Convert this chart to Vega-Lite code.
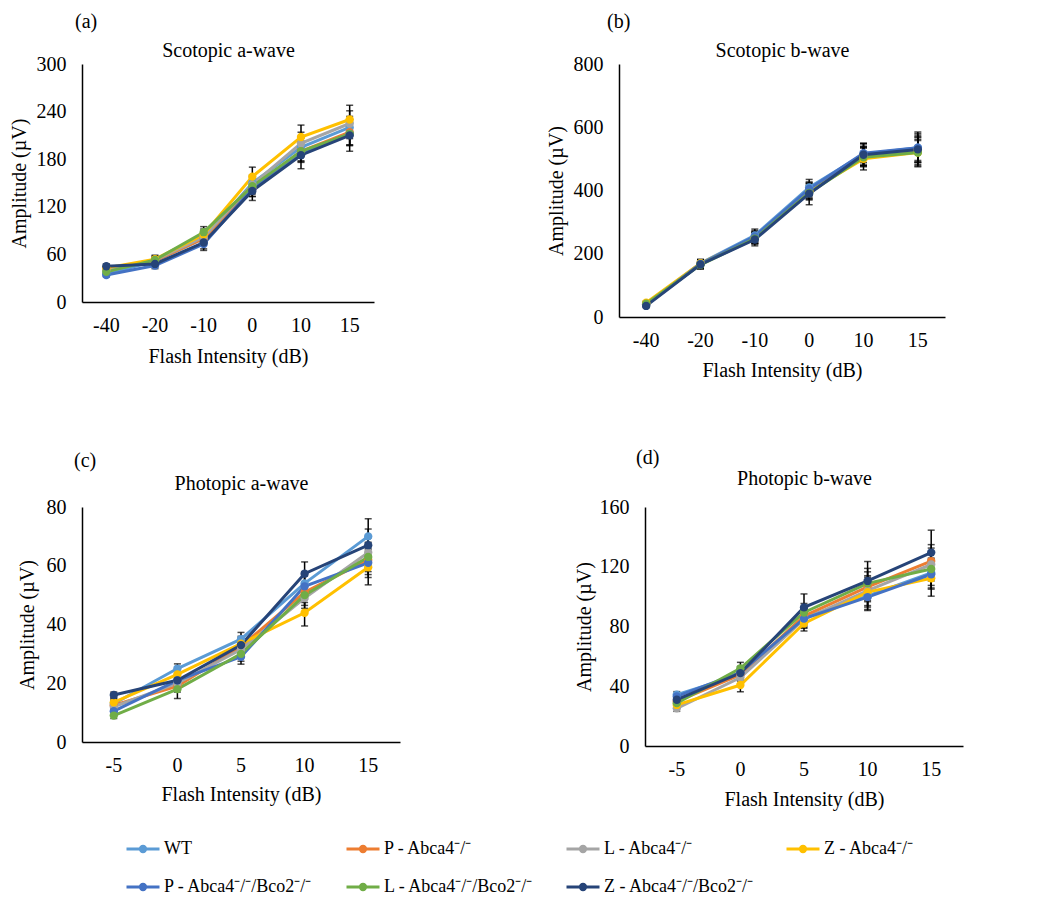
{
  "$schema": "https://vega.github.io/schema/vega-lite/v6.json",
  "padding": {"left": 9, "top": 12, "right": 5, "bottom": 5},
  "background": "white",
  "config": {
    "font": "Liberation Serif",
    "view": {"stroke": null},
    "axis": {"domainColor": "black", "domainWidth": 1.5, "ticks": false, "grid": false, "labelFont": "Liberation Serif", "labelFontSize": 20, "labelColor": "black", "titleFont": "Liberation Serif", "titleFontSize": 20, "titleFontWeight": "normal", "titleColor": "black"},
    "title": {"font": "Liberation Serif", "fontSize": 20, "fontWeight": "normal", "color": "black"},
    "legend": {"columns": 4, "direction": "horizontal", "gridAlign": "all", "columnPadding": 26, "rowPadding": 11, "symbolType": "M-1,0L1,0M0.16,0A0.16,0.16,0,1,1,-0.16,0A0.16,0.16,0,1,1,0.16,0", "symbolSize": 1089, "symbolStrokeWidth": 3, "labelFontSize": 18, "labelOffset": 3, "labelFont": "Liberation Serif", "labelColor": "black", "labelLimit": 0}
  },
  "data": {"values": [
    {"panel":"a","group":"WT","dB":"-40","amp":35,"err":3},{"panel":"a","group":"WT","dB":"-20","amp":52,"err":4},{"panel":"a","group":"WT","dB":"-10","amp":80,"err":6},{"panel":"a","group":"WT","dB":"0","amp":150,"err":10},{"panel":"a","group":"WT","dB":"10","amp":195,"err":12},{"panel":"a","group":"WT","dB":"15","amp":220,"err":14},
    {"panel":"a","group":"P - Abca4⁻/⁻","dB":"-40","amp":42,"err":3},{"panel":"a","group":"P - Abca4⁻/⁻","dB":"-20","amp":52,"err":4},{"panel":"a","group":"P - Abca4⁻/⁻","dB":"-10","amp":80,"err":6},{"panel":"a","group":"P - Abca4⁻/⁻","dB":"0","amp":143,"err":10},{"panel":"a","group":"P - Abca4⁻/⁻","dB":"10","amp":190,"err":13},{"panel":"a","group":"P - Abca4⁻/⁻","dB":"15","amp":214,"err":16},
    {"panel":"a","group":"L - Abca4⁻/⁻","dB":"-40","amp":40,"err":3},{"panel":"a","group":"L - Abca4⁻/⁻","dB":"-20","amp":53,"err":5},{"panel":"a","group":"L - Abca4⁻/⁻","dB":"-10","amp":82,"err":6},{"panel":"a","group":"L - Abca4⁻/⁻","dB":"0","amp":148,"err":10},{"panel":"a","group":"L - Abca4⁻/⁻","dB":"10","amp":200,"err":14},{"panel":"a","group":"L - Abca4⁻/⁻","dB":"15","amp":225,"err":16},
    {"panel":"a","group":"Z - Abca4⁻/⁻","dB":"-40","amp":43,"err":3},{"panel":"a","group":"Z - Abca4⁻/⁻","dB":"-20","amp":54,"err":5},{"panel":"a","group":"Z - Abca4⁻/⁻","dB":"-10","amp":85,"err":7},{"panel":"a","group":"Z - Abca4⁻/⁻","dB":"0","amp":158,"err":12},{"panel":"a","group":"Z - Abca4⁻/⁻","dB":"10","amp":208,"err":15},{"panel":"a","group":"Z - Abca4⁻/⁻","dB":"15","amp":230,"err":18},
    {"panel":"a","group":"P - Abca4⁻/⁻/Bco2⁻/⁻","dB":"-40","amp":34,"err":2},{"panel":"a","group":"P - Abca4⁻/⁻/Bco2⁻/⁻","dB":"-20","amp":46,"err":4},{"panel":"a","group":"P - Abca4⁻/⁻/Bco2⁻/⁻","dB":"-10","amp":73,"err":6},{"panel":"a","group":"P - Abca4⁻/⁻/Bco2⁻/⁻","dB":"0","amp":143,"err":10},{"panel":"a","group":"P - Abca4⁻/⁻/Bco2⁻/⁻","dB":"10","amp":188,"err":12},{"panel":"a","group":"P - Abca4⁻/⁻/Bco2⁻/⁻","dB":"15","amp":212,"err":14},
    {"panel":"a","group":"L - Abca4⁻/⁻/Bco2⁻/⁻","dB":"-40","amp":38,"err":3},{"panel":"a","group":"L - Abca4⁻/⁻/Bco2⁻/⁻","dB":"-20","amp":53,"err":4},{"panel":"a","group":"L - Abca4⁻/⁻/Bco2⁻/⁻","dB":"-10","amp":88,"err":7},{"panel":"a","group":"L - Abca4⁻/⁻/Bco2⁻/⁻","dB":"0","amp":146,"err":10},{"panel":"a","group":"L - Abca4⁻/⁻/Bco2⁻/⁻","dB":"10","amp":190,"err":12},{"panel":"a","group":"L - Abca4⁻/⁻/Bco2⁻/⁻","dB":"15","amp":212,"err":15},
    {"panel":"a","group":"Z - Abca4⁻/⁻/Bco2⁻/⁻","dB":"-40","amp":45,"err":3},{"panel":"a","group":"Z - Abca4⁻/⁻/Bco2⁻/⁻","dB":"-20","amp":48,"err":4},{"panel":"a","group":"Z - Abca4⁻/⁻/Bco2⁻/⁻","dB":"-10","amp":75,"err":10},{"panel":"a","group":"Z - Abca4⁻/⁻/Bco2⁻/⁻","dB":"0","amp":140,"err":12},{"panel":"a","group":"Z - Abca4⁻/⁻/Bco2⁻/⁻","dB":"10","amp":185,"err":17},{"panel":"a","group":"Z - Abca4⁻/⁻/Bco2⁻/⁻","dB":"15","amp":210,"err":20},

    {"panel":"b","group":"WT","dB":"-40","amp":40,"err":5},{"panel":"b","group":"WT","dB":"-20","amp":170,"err":12},{"panel":"b","group":"WT","dB":"-10","amp":258,"err":20},{"panel":"b","group":"WT","dB":"0","amp":410,"err":25},{"panel":"b","group":"WT","dB":"10","amp":515,"err":35},{"panel":"b","group":"WT","dB":"15","amp":535,"err":45},
    {"panel":"b","group":"P - Abca4⁻/⁻","dB":"-40","amp":40,"err":5},{"panel":"b","group":"P - Abca4⁻/⁻","dB":"-20","amp":168,"err":12},{"panel":"b","group":"P - Abca4⁻/⁻","dB":"-10","amp":250,"err":18},{"panel":"b","group":"P - Abca4⁻/⁻","dB":"0","amp":400,"err":22},{"panel":"b","group":"P - Abca4⁻/⁻","dB":"10","amp":510,"err":30},{"panel":"b","group":"P - Abca4⁻/⁻","dB":"15","amp":530,"err":40},
    {"panel":"b","group":"L - Abca4⁻/⁻","dB":"-40","amp":42,"err":5},{"panel":"b","group":"L - Abca4⁻/⁻","dB":"-20","amp":167,"err":11},{"panel":"b","group":"L - Abca4⁻/⁻","dB":"-10","amp":252,"err":18},{"panel":"b","group":"L - Abca4⁻/⁻","dB":"0","amp":395,"err":22},{"panel":"b","group":"L - Abca4⁻/⁻","dB":"10","amp":508,"err":30},{"panel":"b","group":"L - Abca4⁻/⁻","dB":"15","amp":528,"err":40},
    {"panel":"b","group":"Z - Abca4⁻/⁻","dB":"-40","amp":45,"err":5},{"panel":"b","group":"Z - Abca4⁻/⁻","dB":"-20","amp":170,"err":12},{"panel":"b","group":"Z - Abca4⁻/⁻","dB":"-10","amp":250,"err":18},{"panel":"b","group":"Z - Abca4⁻/⁻","dB":"0","amp":398,"err":24},{"panel":"b","group":"Z - Abca4⁻/⁻","dB":"10","amp":500,"err":35},{"panel":"b","group":"Z - Abca4⁻/⁻","dB":"15","amp":520,"err":42},
    {"panel":"b","group":"P - Abca4⁻/⁻/Bco2⁻/⁻","dB":"-40","amp":38,"err":5},{"panel":"b","group":"P - Abca4⁻/⁻/Bco2⁻/⁻","dB":"-20","amp":168,"err":12},{"panel":"b","group":"P - Abca4⁻/⁻/Bco2⁻/⁻","dB":"-10","amp":255,"err":18},{"panel":"b","group":"P - Abca4⁻/⁻/Bco2⁻/⁻","dB":"0","amp":405,"err":22},{"panel":"b","group":"P - Abca4⁻/⁻/Bco2⁻/⁻","dB":"10","amp":518,"err":30},{"panel":"b","group":"P - Abca4⁻/⁻/Bco2⁻/⁻","dB":"15","amp":535,"err":40},
    {"panel":"b","group":"L - Abca4⁻/⁻/Bco2⁻/⁻","dB":"-40","amp":42,"err":5},{"panel":"b","group":"L - Abca4⁻/⁻/Bco2⁻/⁻","dB":"-20","amp":165,"err":11},{"panel":"b","group":"L - Abca4⁻/⁻/Bco2⁻/⁻","dB":"-10","amp":248,"err":17},{"panel":"b","group":"L - Abca4⁻/⁻/Bco2⁻/⁻","dB":"0","amp":392,"err":22},{"panel":"b","group":"L - Abca4⁻/⁻/Bco2⁻/⁻","dB":"10","amp":505,"err":30},{"panel":"b","group":"L - Abca4⁻/⁻/Bco2⁻/⁻","dB":"15","amp":520,"err":38},
    {"panel":"b","group":"Z - Abca4⁻/⁻/Bco2⁻/⁻","dB":"-40","amp":35,"err":5},{"panel":"b","group":"Z - Abca4⁻/⁻/Bco2⁻/⁻","dB":"-20","amp":166,"err":15},{"panel":"b","group":"Z - Abca4⁻/⁻/Bco2⁻/⁻","dB":"-10","amp":245,"err":20},{"panel":"b","group":"Z - Abca4⁻/⁻/Bco2⁻/⁻","dB":"0","amp":390,"err":35},{"panel":"b","group":"Z - Abca4⁻/⁻/Bco2⁻/⁻","dB":"10","amp":513,"err":35},{"panel":"b","group":"Z - Abca4⁻/⁻/Bco2⁻/⁻","dB":"15","amp":530,"err":55},

    {"panel":"c","group":"WT","dB":"-5","amp":13,"err":1.5},{"panel":"c","group":"WT","dB":"0","amp":25,"err":1.6},{"panel":"c","group":"WT","dB":"5","amp":35,"err":2.3},{"panel":"c","group":"WT","dB":"10","amp":54,"err":4},{"panel":"c","group":"WT","dB":"15","amp":70,"err":6},
    {"panel":"c","group":"P - Abca4⁻/⁻","dB":"-5","amp":12.5,"err":1.5},{"panel":"c","group":"P - Abca4⁻/⁻","dB":"0","amp":19,"err":2},{"panel":"c","group":"P - Abca4⁻/⁻","dB":"5","amp":32.5,"err":2.5},{"panel":"c","group":"P - Abca4⁻/⁻","dB":"10","amp":51,"err":3.5},{"panel":"c","group":"P - Abca4⁻/⁻","dB":"15","amp":62,"err":5},
    {"panel":"c","group":"L - Abca4⁻/⁻","dB":"-5","amp":12,"err":1.5},{"panel":"c","group":"L - Abca4⁻/⁻","dB":"0","amp":20,"err":2},{"panel":"c","group":"L - Abca4⁻/⁻","dB":"5","amp":31.5,"err":2.5},{"panel":"c","group":"L - Abca4⁻/⁻","dB":"10","amp":49,"err":3.5},{"panel":"c","group":"L - Abca4⁻/⁻","dB":"15","amp":64.5,"err":5},
    {"panel":"c","group":"Z - Abca4⁻/⁻","dB":"-5","amp":13.5,"err":1.5},{"panel":"c","group":"Z - Abca4⁻/⁻","dB":"0","amp":23,"err":2},{"panel":"c","group":"Z - Abca4⁻/⁻","dB":"5","amp":33.5,"err":2.5},{"panel":"c","group":"Z - Abca4⁻/⁻","dB":"10","amp":44,"err":4.5},{"panel":"c","group":"Z - Abca4⁻/⁻","dB":"15","amp":59.5,"err":6},
    {"panel":"c","group":"P - Abca4⁻/⁻/Bco2⁻/⁻","dB":"-5","amp":10.5,"err":1.5},{"panel":"c","group":"P - Abca4⁻/⁻/Bco2⁻/⁻","dB":"0","amp":21,"err":2},{"panel":"c","group":"P - Abca4⁻/⁻/Bco2⁻/⁻","dB":"5","amp":29,"err":2.5},{"panel":"c","group":"P - Abca4⁻/⁻/Bco2⁻/⁻","dB":"10","amp":53,"err":3.5},{"panel":"c","group":"P - Abca4⁻/⁻/Bco2⁻/⁻","dB":"15","amp":61,"err":5},
    {"panel":"c","group":"L - Abca4⁻/⁻/Bco2⁻/⁻","dB":"-5","amp":9,"err":1},{"panel":"c","group":"L - Abca4⁻/⁻/Bco2⁻/⁻","dB":"0","amp":18,"err":3.2},{"panel":"c","group":"L - Abca4⁻/⁻/Bco2⁻/⁻","dB":"5","amp":30,"err":2.5},{"panel":"c","group":"L - Abca4⁻/⁻/Bco2⁻/⁻","dB":"10","amp":50,"err":3.5},{"panel":"c","group":"L - Abca4⁻/⁻/Bco2⁻/⁻","dB":"15","amp":63,"err":5},
    {"panel":"c","group":"Z - Abca4⁻/⁻/Bco2⁻/⁻","dB":"-5","amp":16,"err":1},{"panel":"c","group":"Z - Abca4⁻/⁻/Bco2⁻/⁻","dB":"0","amp":21,"err":2},{"panel":"c","group":"Z - Abca4⁻/⁻/Bco2⁻/⁻","dB":"5","amp":33,"err":2.5},{"panel":"c","group":"Z - Abca4⁻/⁻/Bco2⁻/⁻","dB":"10","amp":57.3,"err":4},{"panel":"c","group":"Z - Abca4⁻/⁻/Bco2⁻/⁻","dB":"15","amp":67,"err":5.5},

    {"panel":"d","group":"WT","dB":"-5","amp":34.4,"err":2},{"panel":"d","group":"WT","dB":"0","amp":47.7,"err":4},{"panel":"d","group":"WT","dB":"5","amp":86,"err":6},{"panel":"d","group":"WT","dB":"10","amp":100.4,"err":9},{"panel":"d","group":"WT","dB":"15","amp":115.8,"err":10},
    {"panel":"d","group":"P - Abca4⁻/⁻","dB":"-5","amp":29.8,"err":2},{"panel":"d","group":"P - Abca4⁻/⁻","dB":"0","amp":47.7,"err":4},{"panel":"d","group":"P - Abca4⁻/⁻","dB":"5","amp":87,"err":6},{"panel":"d","group":"P - Abca4⁻/⁻","dB":"10","amp":106.6,"err":10},{"panel":"d","group":"P - Abca4⁻/⁻","dB":"15","amp":123.8,"err":11},
    {"panel":"d","group":"L - Abca4⁻/⁻","dB":"-5","amp":25.2,"err":2},{"panel":"d","group":"L - Abca4⁻/⁻","dB":"0","amp":45.8,"err":4},{"panel":"d","group":"L - Abca4⁻/⁻","dB":"5","amp":84.8,"err":6},{"panel":"d","group":"L - Abca4⁻/⁻","dB":"10","amp":104,"err":10},{"panel":"d","group":"L - Abca4⁻/⁻","dB":"15","amp":121.5,"err":11},
    {"panel":"d","group":"Z - Abca4⁻/⁻","dB":"-5","amp":27.5,"err":2},{"panel":"d","group":"Z - Abca4⁻/⁻","dB":"0","amp":40.8,"err":4.5},{"panel":"d","group":"Z - Abca4⁻/⁻","dB":"5","amp":82,"err":5},{"panel":"d","group":"Z - Abca4⁻/⁻","dB":"10","amp":103,"err":10},{"panel":"d","group":"Z - Abca4⁻/⁻","dB":"15","amp":112.3,"err":12},
    {"panel":"d","group":"P - Abca4⁻/⁻/Bco2⁻/⁻","dB":"-5","amp":33.2,"err":2},{"panel":"d","group":"P - Abca4⁻/⁻/Bco2⁻/⁻","dB":"0","amp":49.3,"err":4},{"panel":"d","group":"P - Abca4⁻/⁻/Bco2⁻/⁻","dB":"5","amp":85.3,"err":6},{"panel":"d","group":"P - Abca4⁻/⁻/Bco2⁻/⁻","dB":"10","amp":99.7,"err":9},{"panel":"d","group":"P - Abca4⁻/⁻/Bco2⁻/⁻","dB":"15","amp":115,"err":10},
    {"panel":"d","group":"L - Abca4⁻/⁻/Bco2⁻/⁻","dB":"-5","amp":28.7,"err":2},{"panel":"d","group":"L - Abca4⁻/⁻/Bco2⁻/⁻","dB":"0","amp":52,"err":4},{"panel":"d","group":"L - Abca4⁻/⁻/Bco2⁻/⁻","dB":"5","amp":89.4,"err":6},{"panel":"d","group":"L - Abca4⁻/⁻/Bco2⁻/⁻","dB":"10","amp":108.9,"err":10},{"panel":"d","group":"L - Abca4⁻/⁻/Bco2⁻/⁻","dB":"15","amp":118.5,"err":11},
    {"panel":"d","group":"Z - Abca4⁻/⁻/Bco2⁻/⁻","dB":"-5","amp":31,"err":2},{"panel":"d","group":"Z - Abca4⁻/⁻/Bco2⁻/⁻","dB":"0","amp":48.8,"err":4},{"panel":"d","group":"Z - Abca4⁻/⁻/Bco2⁻/⁻","dB":"5","amp":92.8,"err":9},{"panel":"d","group":"Z - Abca4⁻/⁻/Bco2⁻/⁻","dB":"10","amp":110.5,"err":13},{"panel":"d","group":"Z - Abca4⁻/⁻/Bco2⁻/⁻","dB":"15","amp":129.5,"err":15}
  ]},
  "vconcat": [
    {
      "hconcat": [
        {
          "width": 292, "height": 238,
          "title": {"text": "(a)", "anchor": "start", "frame": "group", "offset": 8, "dx": -7},
          "transform": [{"filter": "datum.panel === 'a'"}],
          "encoding": {
            "x": {"field": "dB", "type": "ordinal", "sort": ["-40","-20","-10","0","10","15"], "axis": {"title": "Flash Intensity (dB)", "labelAngle": 0, "labelPadding": 13, "titlePadding": 11}},
            "y": {"field": "amp", "type": "quantitative", "scale": {"domain": [0, 300], "nice": false}, "axis": {"title": "Amplitude (µV)", "values": [0,60,120,180,240,300], "labelPadding": 16, "titlePadding": 7}}
          },
          "layer": [
            {"mark": {"type": "errorbar", "color": "black", "thickness": 1.5, "ticks": {"size": 7}},
             "encoding": {"x": {"field": "dB", "type": "ordinal", "sort": ["-40","-20","-10","0","10","15"], "axis": {"orient": "top", "title": "Scotopic a-wave", "labels": false, "domain": false, "ticks": false, "titlePadding": 4, "minExtent": 0, "maxExtent": 0}}, "yError": {"field": "err"}}},
            {"mark": {"type": "line", "strokeWidth": 3, "point": {"filled": true, "size": 70}},
             "encoding": {"color": {"field": "group", "type": "nominal", "scale": {"domain": ["WT","P - Abca4⁻/⁻","L - Abca4⁻/⁻","Z - Abca4⁻/⁻","P - Abca4⁻/⁻/Bco2⁻/⁻","L - Abca4⁻/⁻/Bco2⁻/⁻","Z - Abca4⁻/⁻/Bco2⁻/⁻"], "range": ["#5B9BD5","#ED7D31","#A5A5A5","#FFC000","#4472C4","#70AD47","#264478"]}, "legend": {"title": null, "orient": "none", "legendX": 43, "legendY": 767}}}}
          ],
          "resolve": {"axis": {"x": "independent"}}
        },
        {
          "width": 326, "height": 253,
          "title": {"text": "(b)", "anchor": "start", "frame": "group", "offset": 8, "dx": -12},
          "transform": [{"filter": "datum.panel === 'b'"}],
          "encoding": {
            "x": {"field": "dB", "type": "ordinal", "sort": ["-40","-20","-10","0","10","15"], "axis": {"title": "Flash Intensity (dB)", "labelAngle": 0, "labelPadding": 13, "titlePadding": 10}},
            "y": {"field": "amp", "type": "quantitative", "scale": {"domain": [0, 800], "nice": false}, "axis": {"title": "Amplitude (µV)", "values": [0,200,400,600,800], "labelPadding": 16, "titlePadding": 7}}
          },
          "layer": [
            {"mark": {"type": "errorbar", "color": "black", "thickness": 1.5, "ticks": {"size": 7}},
             "encoding": {"x": {"field": "dB", "type": "ordinal", "sort": ["-40","-20","-10","0","10","15"], "axis": {"orient": "top", "title": "Scotopic b-wave", "labels": false, "domain": false, "ticks": false, "titlePadding": 4, "minExtent": 0, "maxExtent": 0}}, "yError": {"field": "err"}}},
            {"mark": {"type": "line", "strokeWidth": 3, "point": {"filled": true, "size": 70}},
             "encoding": {"color": {"field": "group", "type": "nominal", "scale": {"domain": ["WT","P - Abca4⁻/⁻","L - Abca4⁻/⁻","Z - Abca4⁻/⁻","P - Abca4⁻/⁻/Bco2⁻/⁻","L - Abca4⁻/⁻/Bco2⁻/⁻","Z - Abca4⁻/⁻/Bco2⁻/⁻"], "range": ["#5B9BD5","#ED7D31","#A5A5A5","#FFC000","#4472C4","#70AD47","#264478"]}, "legend": {"title": null, "orient": "none", "legendX": 43, "legendY": 767}}}}
          ],
          "resolve": {"axis": {"x": "independent"}}
        }
      ],
      "spacing": 172
    },
    {
      "hconcat": [
        {
          "width": 318, "height": 235,
          "title": {"text": "(c)", "anchor": "start", "frame": "group", "offset": 2, "dx": -8},
          "transform": [{"filter": "datum.panel === 'c'"}],
          "encoding": {
            "x": {"field": "dB", "type": "ordinal", "sort": ["-5","0","5","10","15"], "axis": {"title": "Flash Intensity (dB)", "labelAngle": 0, "labelPadding": 13, "titlePadding": 9}},
            "y": {"field": "amp", "type": "quantitative", "scale": {"domain": [0, 80], "nice": false}, "axis": {"title": "Amplitude (µV)", "values": [0,20,40,60,80], "labelPadding": 16, "titlePadding": 9}}
          },
          "layer": [
            {"mark": {"type": "errorbar", "color": "black", "thickness": 1.5, "ticks": {"size": 7}},
             "encoding": {"x": {"field": "dB", "type": "ordinal", "sort": ["-5","0","5","10","15"], "axis": {"orient": "top", "title": "Photopic a-wave", "labels": false, "domain": false, "ticks": false, "titlePadding": 14, "minExtent": 0, "maxExtent": 0}}, "yError": {"field": "err"}}},
            {"mark": {"type": "line", "strokeWidth": 3, "point": {"filled": true, "size": 70}},
             "encoding": {"color": {"field": "group", "type": "nominal", "scale": {"domain": ["WT","P - Abca4⁻/⁻","L - Abca4⁻/⁻","Z - Abca4⁻/⁻","P - Abca4⁻/⁻/Bco2⁻/⁻","L - Abca4⁻/⁻/Bco2⁻/⁻","Z - Abca4⁻/⁻/Bco2⁻/⁻"], "range": ["#5B9BD5","#ED7D31","#A5A5A5","#FFC000","#4472C4","#70AD47","#264478"]}, "legend": {"title": null, "orient": "none", "legendX": 43, "legendY": 767}}}}
          ],
          "resolve": {"axis": {"x": "independent"}}
        },
        {
          "width": 318, "height": 239,
          "title": {"text": "(d)", "anchor": "start", "frame": "group", "offset": 0, "dx": -9},
          "transform": [{"filter": "datum.panel === 'd'"}],
          "encoding": {
            "x": {"field": "dB", "type": "ordinal", "sort": ["-5","0","5","10","15"], "axis": {"title": "Flash Intensity (dB)", "labelAngle": 0, "labelPadding": 13, "titlePadding": 10}},
            "y": {"field": "amp", "type": "quantitative", "scale": {"domain": [0, 160], "nice": false}, "axis": {"title": "Amplitude (µV)", "values": [0,40,80,120,160], "labelPadding": 16, "titlePadding": 5}}
          },
          "layer": [
            {"mark": {"type": "errorbar", "color": "black", "thickness": 1.5, "ticks": {"size": 7}},
             "encoding": {"x": {"field": "dB", "type": "ordinal", "sort": ["-5","0","5","10","15"], "axis": {"orient": "top", "title": "Photopic b-wave", "labels": false, "domain": false, "ticks": false, "titlePadding": 19, "minExtent": 0, "maxExtent": 0}}, "yError": {"field": "err"}}},
            {"mark": {"type": "line", "strokeWidth": 3, "point": {"filled": true, "size": 70}},
             "encoding": {"color": {"field": "group", "type": "nominal", "scale": {"domain": ["WT","P - Abca4⁻/⁻","L - Abca4⁻/⁻","Z - Abca4⁻/⁻","P - Abca4⁻/⁻/Bco2⁻/⁻","L - Abca4⁻/⁻/Bco2⁻/⁻","Z - Abca4⁻/⁻/Bco2⁻/⁻"], "range": ["#5B9BD5","#ED7D31","#A5A5A5","#FFC000","#4472C4","#70AD47","#264478"]}, "legend": {"title": null, "orient": "none", "legendX": 43, "legendY": 767}}}}
          ],
          "resolve": {"axis": {"x": "independent"}}
        }
      ],
      "spacing": 174
    }
  ],
  "spacing": 68
}
